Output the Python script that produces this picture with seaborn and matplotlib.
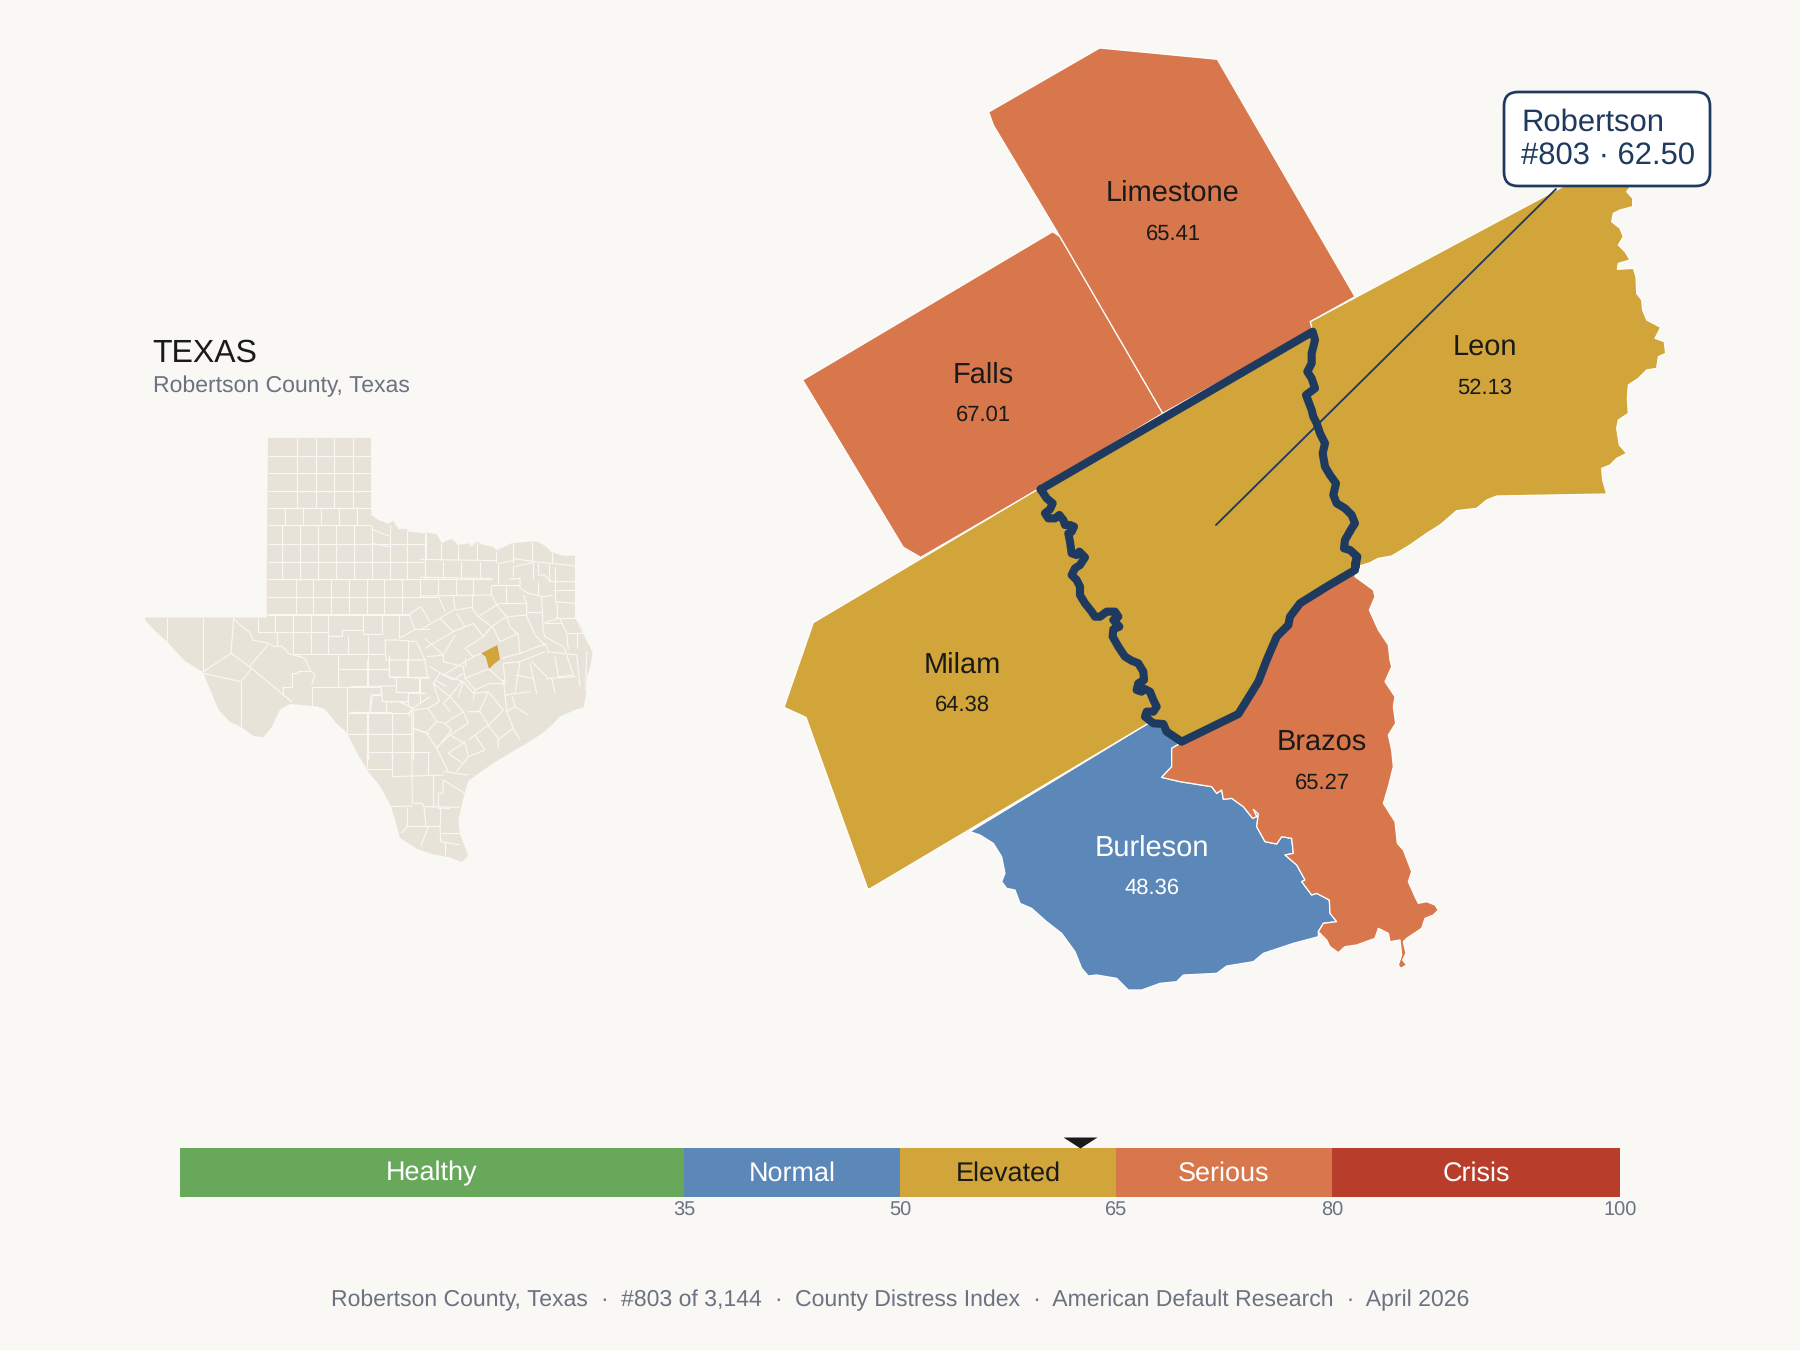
import matplotlib
matplotlib.use("Agg")
import matplotlib.pyplot as plt
import seaborn as sns
from matplotlib.collections import LineCollection
from matplotlib.patches import FancyBboxPatch, Polygon

BG = "#faf8f5"
NAVY = "#1f3a5f"
INK = "#1a1a1a"
GREY = "#6b7280"
LAND = "#e8e3d8"
GOLD = "#d2a53b"
ORANGE = "#d9774c"
BLUE = "#5b88b8"

# scale strip
band_names = ["Healthy", "Normal", "Elevated", "Serious", "Crisis"]
band_upper = [35, 50, 65, 80, 100]
band_colors = ["#68a85a", BLUE, GOLD, ORANGE, "#b83d2a"]
band_text = ["white", "white", INK, "white", "white"]
score = 62.5

# neighbouring counties: name, score
county_names = ["Limestone", "Falls", "Leon", "Milam", "Burleson", "Brazos"]
county_scores = ["65.41", "67.01", "52.13", "64.38", "48.36", "65.27"]
county_label_x = [1173, 983, 1485, 962, 1152, 1322]
county_name_y = [200.7, 382.7, 355.7, 672.7, 855.7, 750.7]
county_score_y = [239.3, 420.7, 394, 710.7, 894, 788.7]

# map outlines in picture pixels
limestone = [(988.7, 112), (1099.7, 48), (1217.3, 59.3), (1355, 296.7), (1310.3, 321.7),
             (1313, 330), (1162.7, 413.3), (1060, 236.7), (993.3, 125)]
falls = [(1052.7, 231.7), (802.7, 380), (903.3, 547.3), (920.7, 557.3), (1040, 488.3),
         (1162.7, 413.3), (1060, 236.7)]

# these are in zoomed pixels: 3x around an origin, converted by unzoom()
robertson_west = [(812, 58), (830, 85), (848, 100), (840, 118), (825, 130), (835, 145), (855, 145),
                  (868, 135), (880, 150), (885, 165), (900, 165), (912, 170), (905, 185), (895, 190),
                  (900, 215), (905, 250), (920, 255), (928, 245), (945, 262), (930, 285), (915, 295),
                  (905, 315), (920, 330), (930, 350), (930, 375), (945, 400), (965, 425), (975, 440),
                  (990, 440), (1010, 425), (1035, 425), (1045, 440), (1030, 450), (1048, 470),
                  (1030, 478), (1028, 500), (1045, 530), (1065, 560), (1085, 572), (1105, 580),
                  (1120, 605), (1122, 630), (1105, 640), (1100, 660), (1115, 665), (1120, 655),
                  (1140, 665), (1150, 690), (1160, 710), (1150, 725), (1130, 725), (1125, 740),
                  (1150, 760), (1180, 762), (1190, 785), (1235, 815)]
robertson_south = [(835, 462), (895, 365), (920, 300), (950, 230), (985, 195), (990, 170), (1020, 130),
                   (1100, 80), (1185, 30), (1188, 0)]
robertson_east = [(255, 1495), (262, 1460), (240, 1440), (222, 1435), (225, 1410), (245, 1375),
                  (255, 1360), (245, 1335), (225, 1315), (200, 1300), (190, 1275), (198, 1240),
                  (180, 1215), (165, 1190), (158, 1150), (165, 1120), (150, 1090), (140, 1060),
                  (130, 1040), (125, 1020), (108, 975), (135, 955), (125, 925), (112, 905), (125, 880),
                  (125, 850), (135, 810), (128, 785)]
milam_outer = [(800, 60), (130, 458), (42, 712), (108, 742), (293, 1256), (300, 1256), (1135, 760)]
leon_north = [(121, 755), (888, 345), (1085, 345), (1070, 365), (1088, 385), (1088, 410), (1050, 420),
              (1030, 430), (1025, 455), (1050, 475), (1060, 500), (1045, 525), (1065, 545), (1080, 570),
              (1045, 580), (1042, 598), (1090, 595), (1098, 620), (1100, 670), (1115, 690), (1118, 720),
              (1130, 750), (1172, 772), (1155, 805), (1183, 815), (1187, 850), (1165, 860), (1160, 895),
              (1130, 900), (1105, 925), (1075, 945), (1072, 985), (1075, 1030), (1045, 1050), (1040, 1075),
              (1048, 1125), (1070, 1150), (1040, 1165), (1020, 1185), (995, 1195), (998, 1230), (1010, 1272),
              (680, 1278), (650, 1290), (620, 1315), (560, 1322), (510, 1365), (470, 1390), (420, 1425),
              (365, 1458), (325, 1465), (300, 1478), (262, 1490)]
burleson_brazos = [(665, 548), (635, 565), (635, 620), (605, 652), (660, 665), (755, 680), (770, 700),
                   (785, 690), (790, 718), (815, 715), (850, 740), (878, 775), (890, 770), (880, 748),
                   (895, 762), (890, 800), (915, 845), (950, 852), (965, 830), (995, 835), (1000, 880),
                   (975, 885), (1010, 915), (1035, 960), (1025, 965), (1055, 1005), (1070, 1000), (1108, 1020),
                   (1110, 1060), (1130, 1085), (1090, 1090), (1075, 1115), (1100, 1140)]
burleson_south = [(1075, 1130), (1000, 1150), (910, 1180), (880, 1205), (800, 1218), (770, 1240), (670, 1245),
                  (650, 1265), (600, 1270), (545, 1290), (505, 1290), (470, 1255), (410, 1245), (385, 1248),
                  (365, 1225), (345, 1175), (305, 1120), (260, 1085), (215, 1045), (180, 1030), (165, 990),
                  (140, 985), (125, 965), (135, 940), (125, 890), (100, 850), (60, 825), (30, 815)]
burleson_north = [(565, 490), (600, 500), (625, 525)]
brazos_east = [(1110, 1160), (1135, 1178), (1155, 1160), (1190, 1155), (1245, 1135), (1255, 1105), (1285, 1120),
               (1290, 1145), (1320, 1140), (1325, 1185), (1315, 1215), (1322, 1225), (1340, 1215), (1328, 1200),
               (1338, 1180), (1330, 1145), (1340, 1135), (1385, 1105), (1395, 1075), (1420, 1065), (1435, 1050),
               (1425, 1035), (1400, 1025), (1375, 1030), (1365, 1010), (1345, 965), (1355, 935), (1330, 870),
               (1312, 850), (1305, 785), (1270, 730), (1285, 680), (1300, 620), (1295, 570), (1285, 525),
               (1307, 490), (1300, 440), (1305, 410), (1275, 365), (1295, 320), (1290, 300), (1285, 255),
               (1255, 210), (1228, 150), (1245, 110), (1240, 90), (1185, 50)]

# Texas inset
texas_outline = [(414, 330), (723, 330), (723, 545), (745, 560), (775, 570), (790, 562), (805, 585), (830, 585),
                 (835, 592), (885, 598), (890, 595), (920, 600), (935, 625), (965, 612), (985, 630), (1015, 625),
                 (1025, 635), (1040, 620), (1060, 630), (1090, 635), (1100, 645), (1145, 625), (1205, 620),
                 (1220, 620), (1245, 632), (1265, 650), (1300, 660), (1335, 660), (1335, 835), (1355, 860),
                 (1365, 890), (1388, 930), (1380, 975), (1370, 1000), (1368, 1050), (1360, 1085), (1340, 1090),
                 (1290, 1110), (1270, 1130), (1240, 1155), (1190, 1185), (1100, 1235), (1060, 1260), (1015, 1290),
                 (1000, 1340), (985, 1400), (990, 1440), (1015, 1500), (995, 1518), (960, 1505), (905, 1495),
                 (860, 1480), (810, 1450), (795, 1400), (782, 1360), (750, 1305), (715, 1265), (680, 1210),
                 (650, 1155), (620, 1130), (585, 1090), (560, 1082), (480, 1075), (450, 1090), (425, 1140),
                 (400, 1168), (370, 1165), (335, 1140), (300, 1125), (265, 1090), (245, 1045), (218, 985),
                 (165, 955), (110, 900), (75, 870), (45, 840), (45, 833), (410, 833), (410, 730)]
inset_robertson = [(184, 400), (232, 375), (240, 418), (222, 432), (207, 447), (197, 410)]

panhandle_lines = [
    [(414, 380), (723, 380)], [(414, 428), (723, 428)], [(414, 478), (723, 478)], [(414, 525), (723, 525)],
    [(502, 330), (502, 525)], [(558, 330), (558, 525)], [(612, 330), (612, 525)], [(668, 330), (668, 525)],
    [(466, 525), (466, 575)], [(520, 525), (520, 575)], [(573, 525), (573, 575)], [(628, 525), (628, 575)],
    [(682, 525), (682, 575)], [(414, 575), (723, 575)], [(723, 585), (778, 605)], [(723, 625), (778, 635)],
    [(457, 575), (457, 725)], [(510, 575), (510, 725)], [(565, 575), (565, 725)], [(618, 575), (618, 725)],
    [(672, 575), (672, 725)], [(726, 575), (726, 725)], [(780, 575), (780, 725)], [(832, 590), (832, 725)],
    [(886, 600), (886, 725)], [(414, 628), (886, 628)], [(414, 678), (886, 678)], [(410, 725), (1090, 725)],
    [(410, 775), (925, 775)], [(497, 725), (497, 825)], [(550, 725), (550, 825)], [(603, 725), (603, 825)],
    [(657, 725), (657, 825)], [(710, 725), (710, 825)], [(763, 725), (763, 825)], [(816, 725), (816, 825)],
    [(870, 725), (870, 775)], [(410, 825), (840, 825)],
]
west_lines = [
    [(80, 85), (80, 155)], [(190, 85), (190, 245)], [(281, 85), (273, 190)], [(273, 190), (190, 245)],
    [(273, 190), (335, 235), (455, 335)], [(385, 163), (328, 230)], [(335, 235), (303, 275)],
    [(190, 250), (303, 275)], [(303, 275), (303, 408)],
    [(281, 85), (300, 105), (330, 128), (338, 150), (385, 160), (405, 170), (425, 168), (445, 190), (495, 205),
     (510, 240), (525, 255), (515, 285)],
    [(353, 85), (353, 125)], [(405, 73), (405, 125)], [(460, 73), (460, 190)], [(512, 73), (512, 190)],
    [(565, 73), (565, 193)], [(353, 125), (565, 125)], [(410, 125), (410, 165)], [(460, 193), (735, 193)],
    [(565, 137), (605, 137), (605, 120), (670, 120)], [(670, 73), (670, 132), (725, 132), (725, 73)],
    [(778, 73), (778, 145)], [(623, 137), (623, 193)], [(683, 135), (683, 193)], [(595, 195), (595, 290)],
    [(597, 238), (750, 238)], [(683, 195), (683, 290)], [(515, 290), (720, 290)], [(515, 290), (515, 345)],
    [(622, 290), (622, 430)], [(430, 290), (430, 315), (455, 335)],
    [(430, 290), (455, 290), (455, 250), (475, 250), (475, 243), (510, 243)], [(748, 195), (748, 262)],
    [(735, 150), (738, 210), (855, 210)], [(803, 150), (803, 262)], [(622, 368), (800, 368)], [(683, 368), (683, 510)],
    [(755, 368), (755, 510)], [(622, 432), (815, 432)], [(683, 487), (870, 487)], [(818, 360), (818, 510)],
    [(722, 290), (728, 335), (805, 335), (805, 310), (858, 310)], [(768, 262), (768, 305), (838, 305), (838, 262)],
    [(750, 262), (870, 262)], [(693, 315), (728, 312)], [(693, 315), (690, 365)], [(737, 335), (737, 365)],
    [(780, 335), (818, 355), (805, 378)], [(818, 355), (870, 320)], [(843, 50), (808, 73), (825, 118)],
    [(843, 50), (870, 95)], [(778, 145), (825, 118), (870, 118)], [(735, 150), (770, 150), (830, 155), (855, 210), (862, 260)],
    [(381, 73), (808, 73)], [(820, 415), (870, 432)],
]
east_lines = [
    [(17, 40), (17, 118)], [(63, 70), (63, 120)], [(113, 75), (113, 120)], [(170, 65), (170, 122)], [(228, 95), (228, 130)],
    [(280, 70), (280, 130)], [(337, 65), (337, 125)], [(395, 95), (395, 130)], [(0, 118), (230, 122)],
    [(15, 120), (15, 170)], [(68, 122), (68, 172)], [(122, 122), (122, 172)], [(180, 125), (180, 172)], [(235, 130), (235, 193)],
    [(0, 172), (215, 175)], [(55, 175), (55, 225)], [(107, 175), (107, 225)], [(160, 175), (160, 225)], [(213, 195), (213, 225)],
    [(0, 228), (215, 225)], [(213, 195), (300, 195)], [(258, 195), (258, 250)], [(235, 130), (280, 122)],
    [(280, 115), (340, 125), (395, 130), (465, 138)], [(280, 170), (280, 140), (340, 128)],
    [(268, 178), (300, 175), (300, 205), (325, 220), (370, 230), (400, 225)], [(340, 125), (340, 178)], [(355, 128), (355, 165)],
    [(388, 130), (388, 185)], [(355, 165), (372, 165), (395, 185), (465, 185)], [(405, 140), (405, 245)], [(355, 185), (355, 228)],
    [(400, 210), (465, 210)], [(405, 245), (465, 250)],
    [(310, 225), (320, 250), (320, 290), (335, 320), (345, 345), (380, 380), (385, 395)],
    [(215, 225), (230, 255), (260, 290), (270, 320), (295, 345), (298, 380), (300, 400)],
    [(240, 250), (320, 250)], [(265, 290), (320, 285)], [(325, 277), (365, 277)],
    [(365, 230), (370, 335), (375, 350), (430, 380), (440, 400)], [(412, 250), (412, 295), (370, 310)],
    [(412, 295), (470, 295), (490, 340)], [(420, 295), (440, 340), (445, 390)], [(375, 310), (425, 310)],
    [(470, 340), (470, 385)], [(440, 338), (495, 338)],
    [(100, 230), (105, 270)], [(155, 225), (155, 262)], [(55, 228), (75, 275)],
    [(105, 270), (155, 262), (175, 290), (225, 258), (240, 250)], [(175, 290), (215, 320), (250, 295), (265, 292)],
    [(100, 270), (60, 295), (0, 330)], [(110, 280), (135, 320)], [(60, 295), (100, 335), (160, 310), (190, 350), (215, 320)],
    [(100, 335), (15, 385)], [(15, 355), (70, 405), (105, 345)], [(190, 350), (135, 385), (160, 410), (184, 400)],
    [(218, 320), (240, 365), (295, 340)], [(160, 410), (70, 465), (30, 440)], [(70, 405), (20, 410)],
    [(70, 405), (70, 425), (130, 440), (135, 475), (210, 445)], [(135, 415), (135, 440)],
    [(207, 447), (255, 490), (250, 430)], [(245, 415), (300, 400), (380, 370)], [(250, 430), (300, 425), (375, 395)],
    [(300, 425), (285, 520)], [(330, 430), (350, 520)], [(335, 425), (380, 470), (385, 480)],
    [(405, 410), (415, 470), (460, 465), (440, 405)], [(380, 395), (470, 405)], [(470, 405), (480, 500)], [(500, 395), (497, 510)],
    [(385, 475), (470, 470)], [(395, 475), (405, 520)], [(285, 465), (340, 475)], [(70, 465), (100, 480), (130, 460)],
    [(130, 485), (115, 530)], [(45, 480), (80, 500)], [(210, 490), (165, 510), (135, 475)], [(165, 510), (160, 540)], [(210, 490), (250, 490)],
]
south_lines = [
    [(0, 28), (118, 28)], [(52, 0), (52, 80)], [(0, 80), (135, 78)], [(118, 0), (118, 50), (235, 55)], [(172, 0), (172, 50)],
    [(137, 55), (137, 95), (210, 95)], [(210, 55), (210, 130)], [(92, 80), (92, 105)], [(68, 105), (92, 105)], [(68, 105), (60, 155)],
    [(0, 157), (125, 158)], [(107, 125), (107, 158)], [(107, 125), (150, 125), (188, 145), (172, 165)], [(175, 95), (175, 135)],
    [(125, 158), (125, 320)], [(52, 158), (52, 325)], [(185, 150), (187, 430)], [(0, 222), (187, 222)], [(52, 275), (235, 275)],
    [(235, 275), (235, 345)], [(127, 275), (127, 350)], [(127, 350), (280, 345)], [(52, 327), (127, 327)],
    [(187, 205), (230, 220), (260, 265), (295, 335)], [(188, 150), (235, 145), (260, 185), (230, 218)],
    [(260, 185), (285, 190), (305, 210), (260, 265)], [(250, 70), (300, 110), (280, 130)], [(270, 40), (250, 70), (268, 125), (235, 145)],
    [(270, 40), (340, 65), (370, 100), (415, 95)], [(335, 65), (300, 110), (340, 155), (285, 190)], [(280, 130), (300, 155)],
    [(340, 155), (355, 190), (300, 225), (345, 250), (355, 290), (320, 335)], [(355, 155), (390, 155), (415, 195), (355, 240)],
    [(415, 95), (388, 155)], [(415, 95), (460, 150), (415, 197)], [(415, 197), (445, 235), (445, 265)], [(375, 225), (405, 270)],
    [(300, 225), (258, 265)], [(345, 245), (295, 280), (335, 308)], [(405, 270), (355, 290)], [(465, 105), (470, 155)],
    [(487, 110), (495, 140), (470, 155), (490, 205), (510, 240)], [(490, 205), (445, 238)], [(535, 165), (495, 140)],
    [(460, 60), (465, 105), (540, 95)], [(280, 335), (355, 345)], [(280, 360), (345, 400)], [(248, 345), (248, 440)],
    [(280, 360), (278, 400), (265, 400), (265, 445), (300, 445)], [(187, 430), (215, 430), (222, 440), (330, 442)],
    [(172, 440), (172, 497), (270, 497)], [(222, 442), (228, 497)], [(270, 442), (270, 497)], [(235, 500), (212, 560)],
    [(270, 497), (272, 545), (330, 555)], [(272, 520), (330, 520)], [(285, 550), (285, 585)], [(155, 520), (172, 497)], [(122, 440), (187, 438)],
]


def unzoom(points, ox, oy, sx=3.0, sy=3.0):
    return [(ox + x / sx, oy + y / sy) for x, y in points]


def add_county(ax, points, color):
    ax.add_patch(Polygon(points, closed=True, fc=color, ec="white", lw=0.6, joinstyle="round", zorder=2))


sns.set_theme(style="white")
plt.rcParams["font.family"] = ["Liberation Sans", "DejaVu Sans"]
plt.rcParams["text.hinting"] = "none"
plt.rcParams["text.hinting_factor"] = 1

fig = plt.figure(figsize=(12, 9), dpi=150, facecolor=BG)
ax = fig.add_axes([0, 0, 1, 1])
ax.set_facecolor(BG)

west = unzoom(robertson_west, 770, 470)
south = unzoom(robertson_south, 960, 560)
east = unzoom(robertson_east, 1270, 70)
ring = west + south + east + [west[0]]

add_county(ax, falls, ORANGE)
add_county(ax, limestone, ORANGE)
add_county(ax, unzoom(burleson_north + burleson_brazos[:-1] + burleson_south, 960, 560), BLUE)
add_county(ax, unzoom(burleson_brazos + brazos_east + robertson_south[::-1], 960, 560), ORANGE)
add_county(ax, unzoom(milam_outer, 770, 470) + west[:-4][::-1], GOLD)
add_county(ax, unzoom(leon_north, 1270, 70) + east[:-1], GOLD)
ax.add_patch(Polygon(ring, closed=True, fc=GOLD, ec="none", zorder=3))

ring_x, ring_y = zip(*ring)
sns.lineplot(x=list(ring_x), y=list(ring_y), sort=False, estimator=None, color=NAVY, lw=3.9, ax=ax, zorder=4,
             solid_joinstyle="round", solid_capstyle="round")
ax.plot([1216, 1556], [525, 189], color=NAVY, lw=0.9, zorder=5)

for name, val, x, y1, y2 in zip(county_names, county_scores, county_label_x, county_name_y, county_score_y):
    c = "white" if name == "Burleson" else INK
    ax.text(x, y1, name, ha="center", va="baseline", fontsize=13.7, color=c, zorder=6)
    ax.text(x, y2, val, ha="center", va="baseline", fontsize=10.6, color=c, zorder=6)

# callout
ax.add_patch(FancyBboxPatch((1504, 92), 206, 94, boxstyle="round,pad=0,rounding_size=14", fc="white", ec=NAVY, lw=1.3, zorder=7))
ax.text(1521, 130.7, "Robertson", fontsize=14.7, color=NAVY, va="baseline", zorder=8)
ax.text(1521, 163.3, "#803 · 62.50", fontsize=14.7, color=NAVY, va="baseline", zorder=8)

# inset
ax.text(152, 362, "TEXAS", fontsize=15.2, color=INK, va="baseline")
ax.text(153, 392.5, "Robertson County, Texas", fontsize=11, color=GREY, va="baseline")
texas = Polygon(unzoom(texas_outline, 130, 320, 3.0, 2.8), closed=True, fc=LAND, ec="none", zorder=2)
ax.add_patch(texas)
segments = [unzoom(s, 130, 320, 3.0, 2.8) for s in panhandle_lines]
segments += [unzoom(s, 140, 590) for s in west_lines]
segments += [unzoom(s, 420, 520) for s in east_lines]
segments += [unzoom(s, 350, 660) for s in south_lines]
county_lines = LineCollection(segments, colors=BG, linewidths=0.55, zorder=3)
ax.add_collection(county_lines)
county_lines.set_clip_path(texas)
ax.add_patch(Polygon(unzoom(inset_robertson, 420, 520), closed=True, fc=GOLD, ec="none", zorder=4))

ax.text(900, 1306.7, "Robertson County, Texas  ·  #803 of 3,144  ·  County Distress Index  ·  American Default Research  ·  April 2026",
        ha="center", va="baseline", fontsize=10.9, color=GREY)

ax.set_xlim(0, 1800)
ax.set_ylim(1350, 0)
ax.axis("off")

# scale: longest band first, shorter ones on top
scale = fig.add_axes([180 / 1800, 1 - 1197 / 1350, 1440 / 1800, 49 / 1350])
sns.barplot(x=band_upper[::-1], y=[""] * 5, hue=band_names[::-1], palette=band_colors[::-1], hue_order=band_names[::-1],
            dodge=False, width=1, orient="h", legend=False, saturation=1, linewidth=0, ax=scale)
scale.set_xlim(0, 100)
scale.set_ylim(0.5, -0.5)
scale.set_xticks(band_upper, [str(v) for v in band_upper])
scale.set_yticks([])
scale.set_xlabel("")
scale.set_ylabel("")
scale.tick_params(axis="x", length=0, pad=2, labelsize=9.6, labelcolor=GREY)
sns.despine(ax=scale, left=True, bottom=True)
lower = [0] + band_upper[:-1]
for name, lo, hi, c in zip(band_names, lower, band_upper, band_text):
    scale.text((lo + hi) / 2, 0.16, name, ha="center", va="baseline", fontsize=12.8, color=c)
scale.plot([score], [-0.5], marker=[(-17, 11), (17, 11), (0, 0)], ms=16.3, color=INK, mew=0, clip_on=False, ls="none")

fig.savefig("out.png", dpi=150, facecolor=BG)
